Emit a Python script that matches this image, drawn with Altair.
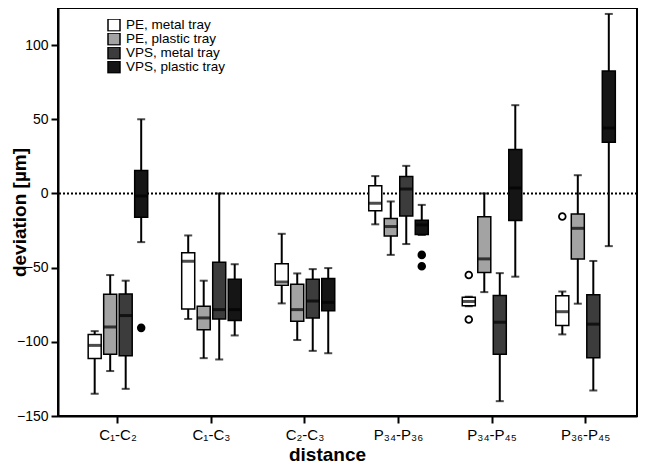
import altair as alt
import pandas as pd

distances = ["C₁-C₂", "C₁-C₃", "C₂-C₃", "P₃₄-P₃₆", "P₃₄-P₄₅", "P₃₆-P₄₅"]
groups = ["PE, metal tray", "PE, plastic tray", "VPS, metal tray", "VPS, plastic tray"]
colors = ["#ffffff", "#a3a3a3", "#3c3c3c", "#151515"]

# box statistics per group: lower whisker, q1, median, q3, upper whisker
pe_metal_lo = [-135, -84.6, -74.1, -20.8, -76.0, -95]
pe_metal_q1 = [-111.2, -77.9, -61.9, -11.7, -75.7, -89]
pe_metal_med = [-102.4, -45.7, -59.7, -6.6, -72.8, -79.7]
pe_metal_q3 = [-95, -39.9, -47.4, 5.2, -69.9, -69]
pe_metal_hi = [-92.8, -28.3, -27.2, 11.7, -69.6, -66.1]

pe_plastic_lo = [-119.7, -111, -98.8, -41.4, -66.5, -74.3]
pe_plastic_q1 = [-108.3, -91.9, -86.1, -28.6, -53.2, -44.1]
pe_plastic_med = [-90, -83.9, -78.3, -22.3, -44.1, -23.5]
pe_plastic_q3 = [-67.9, -76.1, -61.2, -16.8, -15.7, -13.9]
pe_plastic_hi = [-55, -58.8, -53.9, -5.4, 0, 12.3]

vps_metal_lo = [-131.7, -111.9, -106.1, -34.1, -140, -132.8]
vps_metal_q1 = [-109.4, -84.6, -83.9, -15.2, -108.3, -110.8]
vps_metal_med = [-82.3, -78.3, -72.5, 3, -86.8, -88.1]
vps_metal_q3 = [-67.7, -46.3, -57.9, 11.5, -68.8, -68.3]
vps_metal_hi = [-58.8, 0, -51, 18.6, -53.7, -45.5]

vps_plastic_lo = [-32.8, -95.7, -107.7, -28, -56.1, -35.5]
vps_plastic_q1 = [-16.1, -85.7, -79, -27.7, -18.3, 34.5]
vps_plastic_med = [-1.7, -78.3, -73.4, -21.2, 3.7, 44.1]
vps_plastic_q3 = [15.5, -57.9, -57.4, -18.1, 29.7, 82.5]
vps_plastic_hi = [50, -47.7, -50.3, -7.7, 59.5, 121]

outlier_distance = ["C₁-C₂", "P₃₄-P₃₆", "P₃₄-P₃₆", "P₃₄-P₄₅", "P₃₄-P₄₅", "P₃₆-P₄₅"]
outlier_group = ["VPS, plastic tray", "VPS, plastic tray", "VPS, plastic tray",
                 "PE, metal tray", "PE, metal tray", "PE, metal tray"]
outlier_value = [-90.6, -41.4, -49, -55, -85, -15.5]

stats = {
    "PE, metal tray": (pe_metal_lo, pe_metal_q1, pe_metal_med, pe_metal_q3, pe_metal_hi),
    "PE, plastic tray": (pe_plastic_lo, pe_plastic_q1, pe_plastic_med, pe_plastic_q3, pe_plastic_hi),
    "VPS, metal tray": (vps_metal_lo, vps_metal_q1, vps_metal_med, vps_metal_q3, vps_metal_hi),
    "VPS, plastic tray": (vps_plastic_lo, vps_plastic_q1, vps_plastic_med, vps_plastic_q3, vps_plastic_hi),
}

rows = []
for g in groups:
    lo, q1, med, q3, hi = stats[g]
    for i, d in enumerate(distances):
        rows.append({"distance": d, "group": g, "lo": lo[i], "q1": q1[i],
                     "med": med[i], "q3": q3[i], "hi": hi[i]})
df = pd.DataFrame(rows)
out = pd.DataFrame({"distance": outlier_distance, "group": outlier_group, "value": outlier_value})

FONT = "Liberation Sans"

x_enc = alt.X(
    "distance:N",
    sort=distances,
    scale=alt.Scale(domain=distances, paddingInner=0.337, paddingOuter=0.264, align=0.586),
    axis=alt.Axis(title="distance", labelAngle=0, labelFontSize=15, labelPadding=4,
                  tickSize=7, tickWidth=2, tickColor="black", domainColor="black",
                  domainWidth=2, labelColor="black", titleFontSize=19, titleFontWeight="bold",
                  titlePadding=3, titleX=269, grid=False),
)
xo_enc = alt.XOffset("group:N", sort=groups,
                     scale=alt.Scale(domain=groups, paddingInner=0.16, paddingOuter=0.08))
y_scale = alt.Scale(domain=[-150, 125], nice=False, zero=False)
y_axis = alt.Axis(title="deviation [µm]", values=[-150, -100, -50, 0, 50, 100],
                  labelFontSize=14, labelPadding=3, tickSize=7, tickWidth=2,
                  tickColor="black", domainColor="black", domainWidth=2, labelColor="black",
                  titleFontSize=19, titleFontWeight="bold", titleX=-29, grid=False)

base = alt.Chart(df)

zero = alt.Chart(pd.DataFrame({"z": [0]})).mark_rule(
    color="black", strokeWidth=2, strokeDash=[2, 2]
).encode(y=alt.Y("z:Q", scale=y_scale, axis=y_axis))

whisk = base.mark_rule(color="black", strokeWidth=2).encode(
    x=x_enc, xOffset=xo_enc,
    y=alt.Y("lo:Q", scale=y_scale, axis=y_axis), y2="hi:Q")

boxes = base.mark_bar(stroke="black", strokeWidth=1.5).encode(
    x=x_enc, xOffset=xo_enc,
    y=alt.Y("q1:Q", scale=y_scale, axis=y_axis), y2="q3:Q",
    color=alt.Color("group:N", sort=groups,
                    scale=alt.Scale(domain=groups, range=colors),
                    legend=alt.Legend(title=None, orient="none", legendX=49, legendY=11,
                                      symbolType="square", symbolSize=144,
                                      symbolStrokeColor="black", symbolStrokeWidth=1.5,
                                      labelFontSize=13.5, labelColor="black", labelOffset=5,
                                      clipHeight=12, rowPadding=0, padding=0)))

med = base.mark_tick(color="black", thickness=3, size=13, orient="horizontal").encode(
    x=x_enc, xOffset=xo_enc, y=alt.Y("med:Q", scale=y_scale, axis=y_axis))
cap_lo = base.mark_tick(color="black", thickness=2, size=8, orient="horizontal").encode(
    x=x_enc, xOffset=xo_enc, y=alt.Y("lo:Q", scale=y_scale, axis=y_axis))
cap_hi = base.mark_tick(color="black", thickness=2, size=8, orient="horizontal").encode(
    x=x_enc, xOffset=xo_enc, y=alt.Y("hi:Q", scale=y_scale, axis=y_axis))

pts = alt.Chart(out).mark_point(shape="circle", size=45, strokeWidth=1.8, opacity=1).encode(
    x=x_enc, xOffset=xo_enc,
    y=alt.Y("value:Q", scale=y_scale, axis=y_axis),
    fill=alt.condition(alt.datum.group == "PE, metal tray", alt.value("white"), alt.value("black")),
    stroke=alt.value("black"))

chart = alt.layer(zero, whisk, boxes, med, cap_lo, cap_hi, pts).properties(
    width=579, height=408,
    autosize=alt.AutoSizeParams(type="none"),
    padding={"left": 50, "top": 0, "right": 4, "bottom": 52},
).configure(font=FONT).configure_view(stroke="black", strokeWidth=2)

chart.save("out.html", embed_options={"renderer": "svg", "actions": False})
